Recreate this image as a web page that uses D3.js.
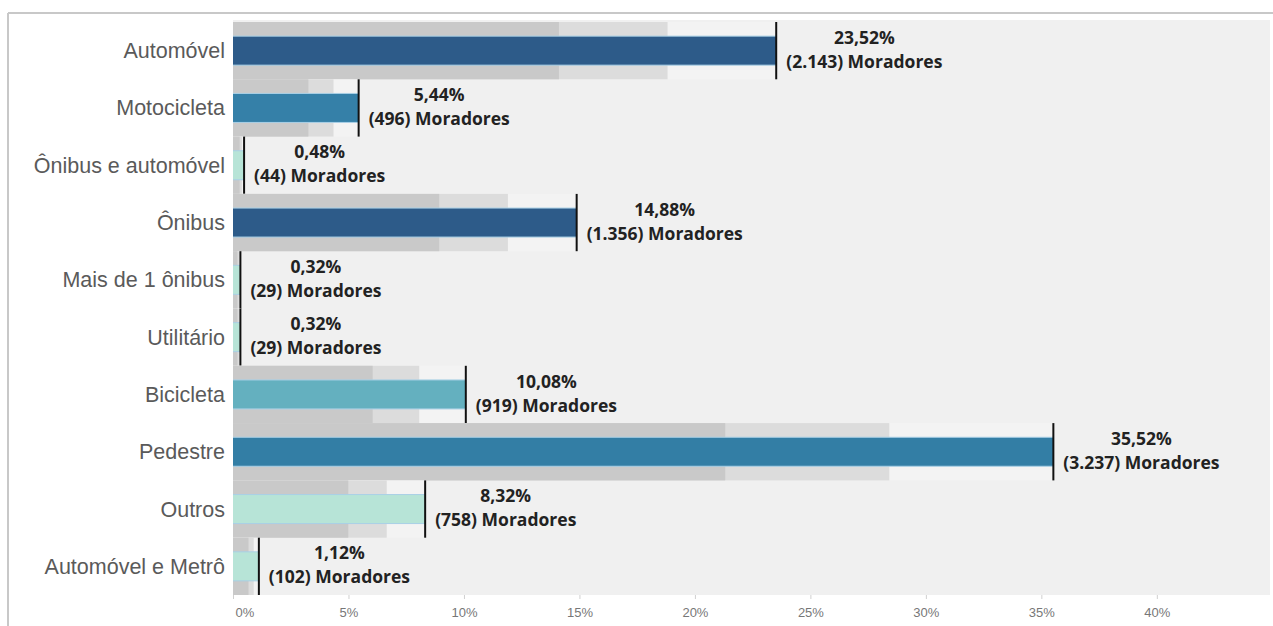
<!DOCTYPE html>
<html><head><meta charset="utf-8">
<script src="https://cdn.jsdelivr.net/npm/d3@7"></script>
<style>body{margin:0;background:#fff;}svg{display:block;}</style>
</head><body>
<svg id="c" width="1273" height="626"></svg>
<script>
const categories = ["Automóvel","Motocicleta","Ônibus e automóvel","Ônibus","Mais de 1 ônibus","Utilitário","Bicicleta","Pedestre","Outros","Automóvel e Metrô"];
const percents = [23.52, 5.44, 0.48, 14.88, 0.32, 0.32, 10.08, 35.52, 8.32, 1.12];
const residents = [2143, 496, 44, 1356, 29, 29, 919, 3237, 758, 102];
const tickValues = [0, 5, 10, 15, 20, 25, 30, 35, 40];
const bandFractions = [1.0, 0.8, 0.6];

const barColors = ["#2d5b89","#3580a8","#b7e4d7","#2d5b89","#b7e4d7","#b7e4d7","#64b0bf","#337ea5","#b7e4d7","#b7e4d7"];
const bandColors = ["#f3f3f3","#dcdcdc","#c9c9c9"];

const svg = d3.select("#c");
const pLeft = 233, pRight = 1270, pTop = 22, pBottom = 595;
const x = d3.scaleLinear().domain([0, 44.9]).range([pLeft, pRight]);
const y = d3.scaleBand().domain(categories).range([pTop, pBottom]).paddingInner(0).paddingOuter(0);
const color = d3.scaleOrdinal().domain(categories).range(barColors);

const data = categories.map((c,i)=>({cat:c, pct:percents[i], n:residents[i]}));
const fmtPct = v => v.toFixed(2).replace(".", ",") + "%";
const fmtN = n => d3.format(",")(n).replace(/,/g, ".");

// outer frame
svg.append("line").attr("x1",8).attr("x2",1273).attr("y1",13).attr("y2",13).attr("stroke","#c8c8c8").attr("stroke-width",2);
svg.append("line").attr("x1",8).attr("x2",8).attr("y1",13).attr("y2",626).attr("stroke","#c8c8c8").attr("stroke-width",2);

// plot background
svg.append("rect").attr("x",pLeft).attr("y",pTop-2).attr("width",pRight-pLeft).attr("height",pBottom-pTop+2).attr("fill","#f0f0f0");

const rows = svg.append("g").selectAll("g").data(data).join("g")
  .attr("transform", d => `translate(0,${y(d.cat)})`);

// bands
bandFractions.forEach((f,k)=>{
  rows.append("rect").attr("x", x(0)).attr("y",0)
    .attr("width", d => x(d.pct*f)-x(0)).attr("height", y.bandwidth())
    .attr("fill", bandColors[k]);
});

// bars
const bh = 29;
rows.append("rect").attr("x", x(0)).attr("y", (y.bandwidth()-bh)/2)
  .attr("width", d => x(d.pct)-x(0)).attr("height", bh)
  .attr("fill", d => color(d.cat));
rows.append("line").attr("x1", x(0)).attr("x2", d=>x(d.pct)).attr("y1",(y.bandwidth()-bh)/2).attr("y2",(y.bandwidth()-bh)/2)
  .attr("stroke","#a9d0e6").attr("stroke-width",1);
rows.append("line").attr("x1", x(0)).attr("x2", d=>x(d.pct)).attr("y1",(y.bandwidth()+bh)/2).attr("y2",(y.bandwidth()+bh)/2)
  .attr("stroke","#a9d0e6").attr("stroke-width",1);

// reference line
rows.append("line").attr("x1", d=>x(d.pct)).attr("x2", d=>x(d.pct))
  .attr("y1", 0).attr("y2", y.bandwidth()).attr("stroke","#111").attr("stroke-width",2);

// value labels
const lab = rows.append("g");
lab.each(function(d){
  const g = d3.select(this);
  const cy = y.bandwidth()/2;
  const t2 = g.append("text").attr("y", cy+11).attr("dy","0.35em")
    .attr("font-family","'Open Sans', sans-serif").attr("font-weight",700).attr("font-size","17.5px")
    .attr("fill","#222").attr("text-anchor","middle").text(`(${fmtN(d.n)}) Moradores`);
  const w = t2.node().getComputedTextLength();
  const cx = x(d.pct) + 10 + w/2;
  t2.attr("x", cx);
  g.append("text").attr("x", cx).attr("y", cy-13).attr("dy","0.35em")
    .attr("font-family","'Open Sans', sans-serif").attr("font-weight",700).attr("font-size","17.5px")
    .attr("fill","#222").attr("text-anchor","middle").text(fmtPct(d.pct));
});

// category labels
svg.append("g").selectAll("text").data(data).join("text")
  .attr("x", 225).attr("y", d => y(d.cat)+y.bandwidth()/2).attr("dy","0.35em")
  .attr("text-anchor","end").attr("font-family","'Liberation Sans', Arial, sans-serif")
  .attr("font-size","21.5px").attr("fill","#5a5a5a").text(d=>d.cat);

// x axis
const ax = svg.append("g").attr("transform",`translate(0,${pBottom})`)
  .call(d3.axisBottom(x).tickValues(tickValues).tickFormat(d=>d+"%").tickSize(4).tickPadding(9));
ax.select(".domain").remove();
ax.selectAll(".tick line").attr("stroke","#d0d0d0");
ax.selectAll(".tick text").attr("font-family","'Liberation Sans', Arial, sans-serif").attr("font-size","13px").attr("fill","#777");
ax.selectAll(".tick text").filter(d=>d===0).attr("text-anchor","start").attr("dx","2");
</script>
</body></html>
